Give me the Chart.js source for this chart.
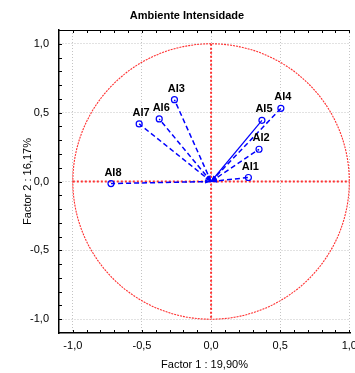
<!DOCTYPE html>
<html>
<head>
<meta charset="utf-8">
<script src="https://cdn.jsdelivr.net/npm/chart.js@4/dist/chart.umd.min.js"></script>
<style>
  body { margin: 0; background: #fff; }
  canvas { display: block; }
</style>
</head>
<body>
<canvas id="pca" width="355" height="373"></canvas>
<script>
var var_names = ['AI1', 'AI2', 'AI3', 'AI4', 'AI5', 'AI6', 'AI7', 'AI8']
var factor1 = [0.27, 0.347, -0.265, 0.505, 0.368, -0.375, -0.52, -0.724]
var factor2 = [0.029, 0.234, 0.594, 0.531, 0.444, 0.454, 0.418, -0.015]
var tick_values = [-1.0, -0.5, 0.0, 0.5, 1.0]
var chart_title = 'Ambiente Intensidade'
var x_title = 'Factor 1 : 19,90%'
var y_title = 'Factor 2 : 16,17%'

function fmt(v) {
	if (Math.abs(v) < 1e-9) v = 0
	return v.toFixed(1).replace('.', ',')
}

// one line dataset per variable: origin -> loading
var datasets = []
for (var i = 0; i < var_names.length; i++) {
	datasets.push({
		label: var_names[i],
		data: [{x: 0, y: 0}, {x: factor1[i], y: factor2[i]}],
		showLine: true,
		borderColor: '#0000ff',
		borderWidth: var_names[i] == 'AI5' ? 1.2 : 1.5,
		borderDash: var_names[i] == 'AI5' ? [] : [5, 3],
		pointRadius: [0, 3],
		pointBorderWidth: 1.2,
		pointBorderColor: '#0000ff',
		pointBackgroundColor: 'rgba(0,0,0,0)'
	})
}

var extras = {
	id: 'extras',
	beforeDatasetsDraw: function(chart) {
		var ctx = chart.ctx, xs = chart.scales.x, ys = chart.scales.y, a = chart.chartArea
		var ox = xs.getPixelForValue(0), oy = ys.getPixelForValue(0)
		ctx.save()
		// unit circle
		ctx.strokeStyle = '#ff3030'
		ctx.lineWidth = 1.1
		ctx.setLineDash([2, 1])
		ctx.beginPath()
		ctx.ellipse(ox, oy, xs.getPixelForValue(1) - ox, oy - ys.getPixelForValue(1), 0, 0, Math.PI * 2)
		ctx.stroke()
		// red axes
		ctx.lineWidth = 2
		ctx.setLineDash([2, 2])
		ctx.beginPath()
		ctx.moveTo(xs.getPixelForValue(-1), oy)
		ctx.lineTo(xs.getPixelForValue(1), oy)
		ctx.moveTo(ox, ys.getPixelForValue(1))
		ctx.lineTo(ox, ys.getPixelForValue(-1))
		ctx.stroke()
		// frame top + minor ticks
		ctx.setLineDash([])
		ctx.strokeStyle = '#000'
		ctx.lineWidth = 1
		ctx.beginPath()
		ctx.moveTo(a.left, a.top + 0.5)
		ctx.lineTo(a.right, a.top + 0.5)
		for (var k = -10; k <= 10; k++) {
			var px = Math.round(xs.getPixelForValue(k / 10)) + 0.5
			ctx.moveTo(px, a.bottom); ctx.lineTo(px, a.bottom - 3)
			ctx.moveTo(px, a.top); ctx.lineTo(px, a.top + 3)
			var py = Math.round(ys.getPixelForValue(k / 10)) + 0.5
			ctx.moveTo(a.left, py); ctx.lineTo(a.left + 3, py)
		}
		ctx.stroke()
		ctx.restore()
	},
	afterDatasetsDraw: function(chart) {
		var ctx = chart.ctx, xs = chart.scales.x, ys = chart.scales.y
		var ox = xs.getPixelForValue(0), oy = ys.getPixelForValue(0)
		ctx.save()
		// arrow heads at origin
		ctx.fillStyle = '#0000ff'
		for (var i = 0; i < var_names.length; i++) {
			var px = xs.getPixelForValue(factor1[i]), py = ys.getPixelForValue(factor2[i])
			var ang = Math.atan2(oy - py, ox - px)
			ctx.beginPath()
			ctx.moveTo(ox, oy)
			ctx.lineTo(ox - 6 * Math.cos(ang) + 2 * Math.sin(ang), oy - 6 * Math.sin(ang) - 2 * Math.cos(ang))
			ctx.lineTo(ox - 6 * Math.cos(ang) - 2 * Math.sin(ang), oy - 6 * Math.sin(ang) + 2 * Math.cos(ang))
			ctx.closePath()
			ctx.fill()
		}
		// labels
		ctx.fillStyle = '#000'
		ctx.font = 'bold 11px "Liberation Sans", Arial, sans-serif'
		ctx.textAlign = 'center'
		ctx.textBaseline = 'middle'
		for (var i = 0; i < var_names.length; i++) {
			ctx.fillText(var_names[i], xs.getPixelForValue(factor1[i]) + 2, ys.getPixelForValue(factor2[i]) - 11)
		}
		ctx.restore()
	},
	afterDraw: function(chart) {
		var ctx = chart.ctx
		ctx.save()
		ctx.fillStyle = '#000'
		ctx.font = 'bold 11px "Liberation Sans", Arial, sans-serif'
		ctx.textAlign = 'center'
		ctx.textBaseline = 'middle'
		ctx.fillText(chart_title, 187, 16)
		ctx.restore()
	}
}

var ctx = document.getElementById('pca').getContext('2d')
var myChart = new Chart(ctx, {
	type: 'scatter',
	data: { datasets: datasets },
	options: {
		responsive: false,
		animation: false,
		layout: { padding: { top: 30, right: 5, left: 0, bottom: 0 }, autoPadding: false },
		plugins: { legend: { display: false }, tooltip: { enabled: false }, title: { display: false } },
		scales: {
			x: {
				type: 'linear', min: -1.1, max: 1.005,
				afterFit: function(s) { s.height = 40; s.paddingLeft = 0; s.paddingRight = 0 },
				afterBuildTicks: function(s) { s.ticks = tick_values.map(function(v) { return {value: v} }) },
				ticks: { callback: fmt, padding: 6, color: '#000', maxRotation: 0,
					font: { family: '"Liberation Sans", Arial, sans-serif', size: 11 } },
				grid: { color: '#c4c4c4', drawTicks: false },
				border: { display: true, color: '#000', width: 1.5, dash: [1, 2] },
				title: { display: true, text: x_title, color: '#000', padding: { top: 0, bottom: 1 },
					font: { family: '"Liberation Sans", Arial, sans-serif', size: 11 } }
			},
			y: {
				type: 'linear', min: -1.1, max: 1.1,
				afterFit: function(s) { s.width = 59; s.paddingTop = 0; s.paddingBottom = 0 },
				afterBuildTicks: function(s) { s.ticks = tick_values.map(function(v) { return {value: v} }) },
				ticks: { callback: fmt, padding: 10, color: '#000',
					font: { family: '"Liberation Sans", Arial, sans-serif', size: 11 } },
				grid: { color: '#c4c4c4', drawTicks: false },
				border: { display: true, color: '#000', width: 1.5, dash: [1, 2] },
				title: { display: true, text: y_title, color: '#000', padding: { top: 21, bottom: 0 },
					font: { family: '"Liberation Sans", Arial, sans-serif', size: 11 } }
			}
		}
	},
	plugins: [extras]
})
</script>
</body>
</html>
